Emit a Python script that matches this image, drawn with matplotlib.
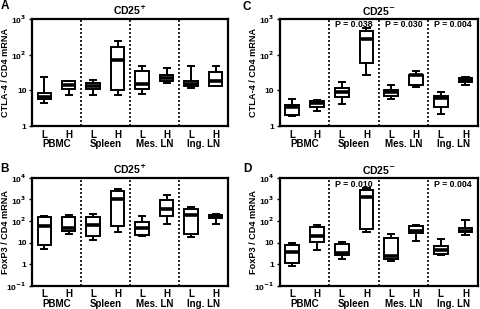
import math
import matplotlib
matplotlib.use("Agg")
from matplotlib import pyplot as plt
from matplotlib.ticker import FixedLocator, FuncFormatter

plt.rcParams['font.family'] = ['Liberation Sans', 'DejaVu Sans']
plt.rcParams['font.weight'] = 'bold'
plt.rcParams['mathtext.default'] = 'bf'

groups = ['PBMC', 'Spleen', 'Mes. LN', 'Ing. LN']
levels = ['L', 'H']

# each box: (whislo, q1, med, q3, whishi), order PBMC L/H, Spleen L/H, Mes L/H, Ing L/H
ctla4_pos = [
    (4.3, 5.9, 6.7, 8.5, 24.6), (7.3, 11, 14.4, 17.9, 18.7),
    (7.3, 11, 13, 16, 20), (7.3, 10, 72, 170, 250),
    (7.9, 11, 15.4, 34, 47), (16, 18.7, 22, 27.5, 42),
    (12, 13.5, 15.4, 18, 47), (13, 13, 18, 32.6, 47),
]
ctla4_neg = [
    (1.9, 2.1, 3.45, 4.0, 5.8), (2.6, 3.45, 4.3, 5.0, 5.5),
    (4.2, 6.4, 8.8, 11.7, 16.8), (27.5, 58, 270, 460, 550),
    (5.8, 6.9, 8.8, 10.5, 14.4), (12.5, 14.4, 27, 27.5, 34),
    (2.25, 3.45, 6.2, 7.1, 8.8), (14, 16.8, 20, 23, 23.7),
]
foxp3_pos = [
    (5.0, 8.3, 60, 150, 180), (25, 34, 48, 150, 200),
    (13, 20, 69, 150, 220), (30, 60, 1000, 2400, 3100),
    (21, 24, 48, 91, 174), (76, 174, 370, 970, 1700),
    (18.6, 25, 200, 370, 445), (76, 145, 166, 200, 220),
]
foxp3_neg = [
    (0.87, 1.1, 3.6, 8.1, 9.5), (4.7, 10.7, 21, 52, 69),
    (1.7, 2.6, 3.5, 8.7, 10.4), (31.6, 41, 1330, 2750, 3300),
    (1.4, 1.7, 2.4, 16.6, 26), (12.4, 28, 34, 58, 69),
    (2.6, 3.0, 4.7, 7.2, 15), (24, 30, 36.5, 46, 112),
]
pvals_C = {1: 'P = 0.038', 2: 'P = 0.030', 3: 'P = 0.004'}
pvals_D = {1: 'P = 0.010', 3: 'P = 0.004'}


def fmt_pow(v, _):
    if v == 1:
        return '1'
    if v == 10:
        return '10'
    return r'10$^{%d}$' % round(math.log10(v))


def draw(ax, data, ylim, yticks, ylabel, title, letter, pvals, lx, ly, py):
    stats = [dict(whislo=d[0], q1=d[1], med=d[2], q3=d[3], whishi=d[4], fliers=[])
             for d in data]
    pos = []
    for g in range(len(groups)):
        pos += [2 * g + 0.5, 2 * g + 1.5]
    ax.bxp(stats, positions=pos, widths=0.55, showfliers=False, patch_artist=True,
           boxprops=dict(facecolor='white', edgecolor='black', linewidth=1.4),
           medianprops=dict(color='black', linewidth=2.6),
           whiskerprops=dict(color='black', linewidth=1.4),
           capprops=dict(color='black', linewidth=1.4), capwidths=0.25)
    ax.set_yscale('log')
    ax.set_ylim(*ylim)
    ax.set_xlim(0, 8)
    ax.yaxis.set_major_locator(FixedLocator(yticks))
    ax.yaxis.set_major_formatter(FuncFormatter(fmt_pow))
    ax.yaxis.set_minor_locator(FixedLocator([]))
    ax.set_xticks(pos)
    ax.set_xticklabels(levels * len(groups), fontsize=7, fontweight='bold')
    ax.tick_params(axis='x', length=0, pad=2.5)
    ax.tick_params(axis='y', length=2.5, width=1, labelsize=6, pad=1.5)
    for s in ax.spines.values():
        s.set_linewidth(1.6)
    for xv in (2, 4, 6):
        ax.axvline(xv, color='black', linestyle=(0, (1.2, 1.2)), linewidth=1.2)
    for g, name in enumerate(groups):
        ax.text(2 * g + 1, -0.165, name, transform=ax.get_xaxis_transform(),
                ha='center', va='center', fontsize=7, fontweight='bold')
    for g, t in pvals.items():
        ax.text(2 * g + 1, py, t, transform=ax.get_xaxis_transform(),
                ha='center', va='center', fontsize=6.3, fontweight='bold')
    ax.set_ylabel(ylabel, fontsize=6.6, fontweight='bold')
    ax.yaxis.set_label_coords(-0.11, 0.5)
    ax.set_title(title, fontsize=7.5, fontweight='bold', pad=3)
    ax.text(lx, ly, letter, transform=ax.transAxes, fontsize=8.5,
            fontweight='bold', ha='left', va='center')


fig = plt.figure(figsize=(4.8, 3.09), dpi=100)
axA = fig.add_axes([0.0667, 0.592, 0.408, 0.346])
axC = fig.add_axes([0.583, 0.592, 0.4125, 0.346])
axB = fig.add_axes([0.0667, 0.0744, 0.408, 0.350])
axD = fig.add_axes([0.583, 0.0744, 0.4125, 0.350])

ctla_ticks = [1, 10, 100, 1000]
fox_ticks = [0.1, 1, 10, 100, 1000, 10000]
draw(axA, ctla4_pos, (1, 1000), ctla_ticks, 'CTLA-4 / CD4 mRNA', 'CD25$^{+}$', 'A', {},
     -0.162, 1.12, 0.95)
draw(axC, ctla4_neg, (1, 1000), ctla_ticks, 'CTLA-4 / CD4 mRNA', 'CD25$^{-}$', 'C', pvals_C,
     -0.19, 1.11, 0.95)
draw(axB, foxp3_pos, (0.1, 10000), fox_ticks, 'FoxP3 / CD4 mRNA', 'CD25$^{+}$', 'B', {},
     -0.162, 1.08, 0.94)
draw(axD, foxp3_neg, (0.1, 10000), fox_ticks, 'FoxP3 / CD4 mRNA', 'CD25$^{-}$', 'D', pvals_D,
     -0.185, 1.08, 0.94)

fig.savefig('out.png', dpi=100)
